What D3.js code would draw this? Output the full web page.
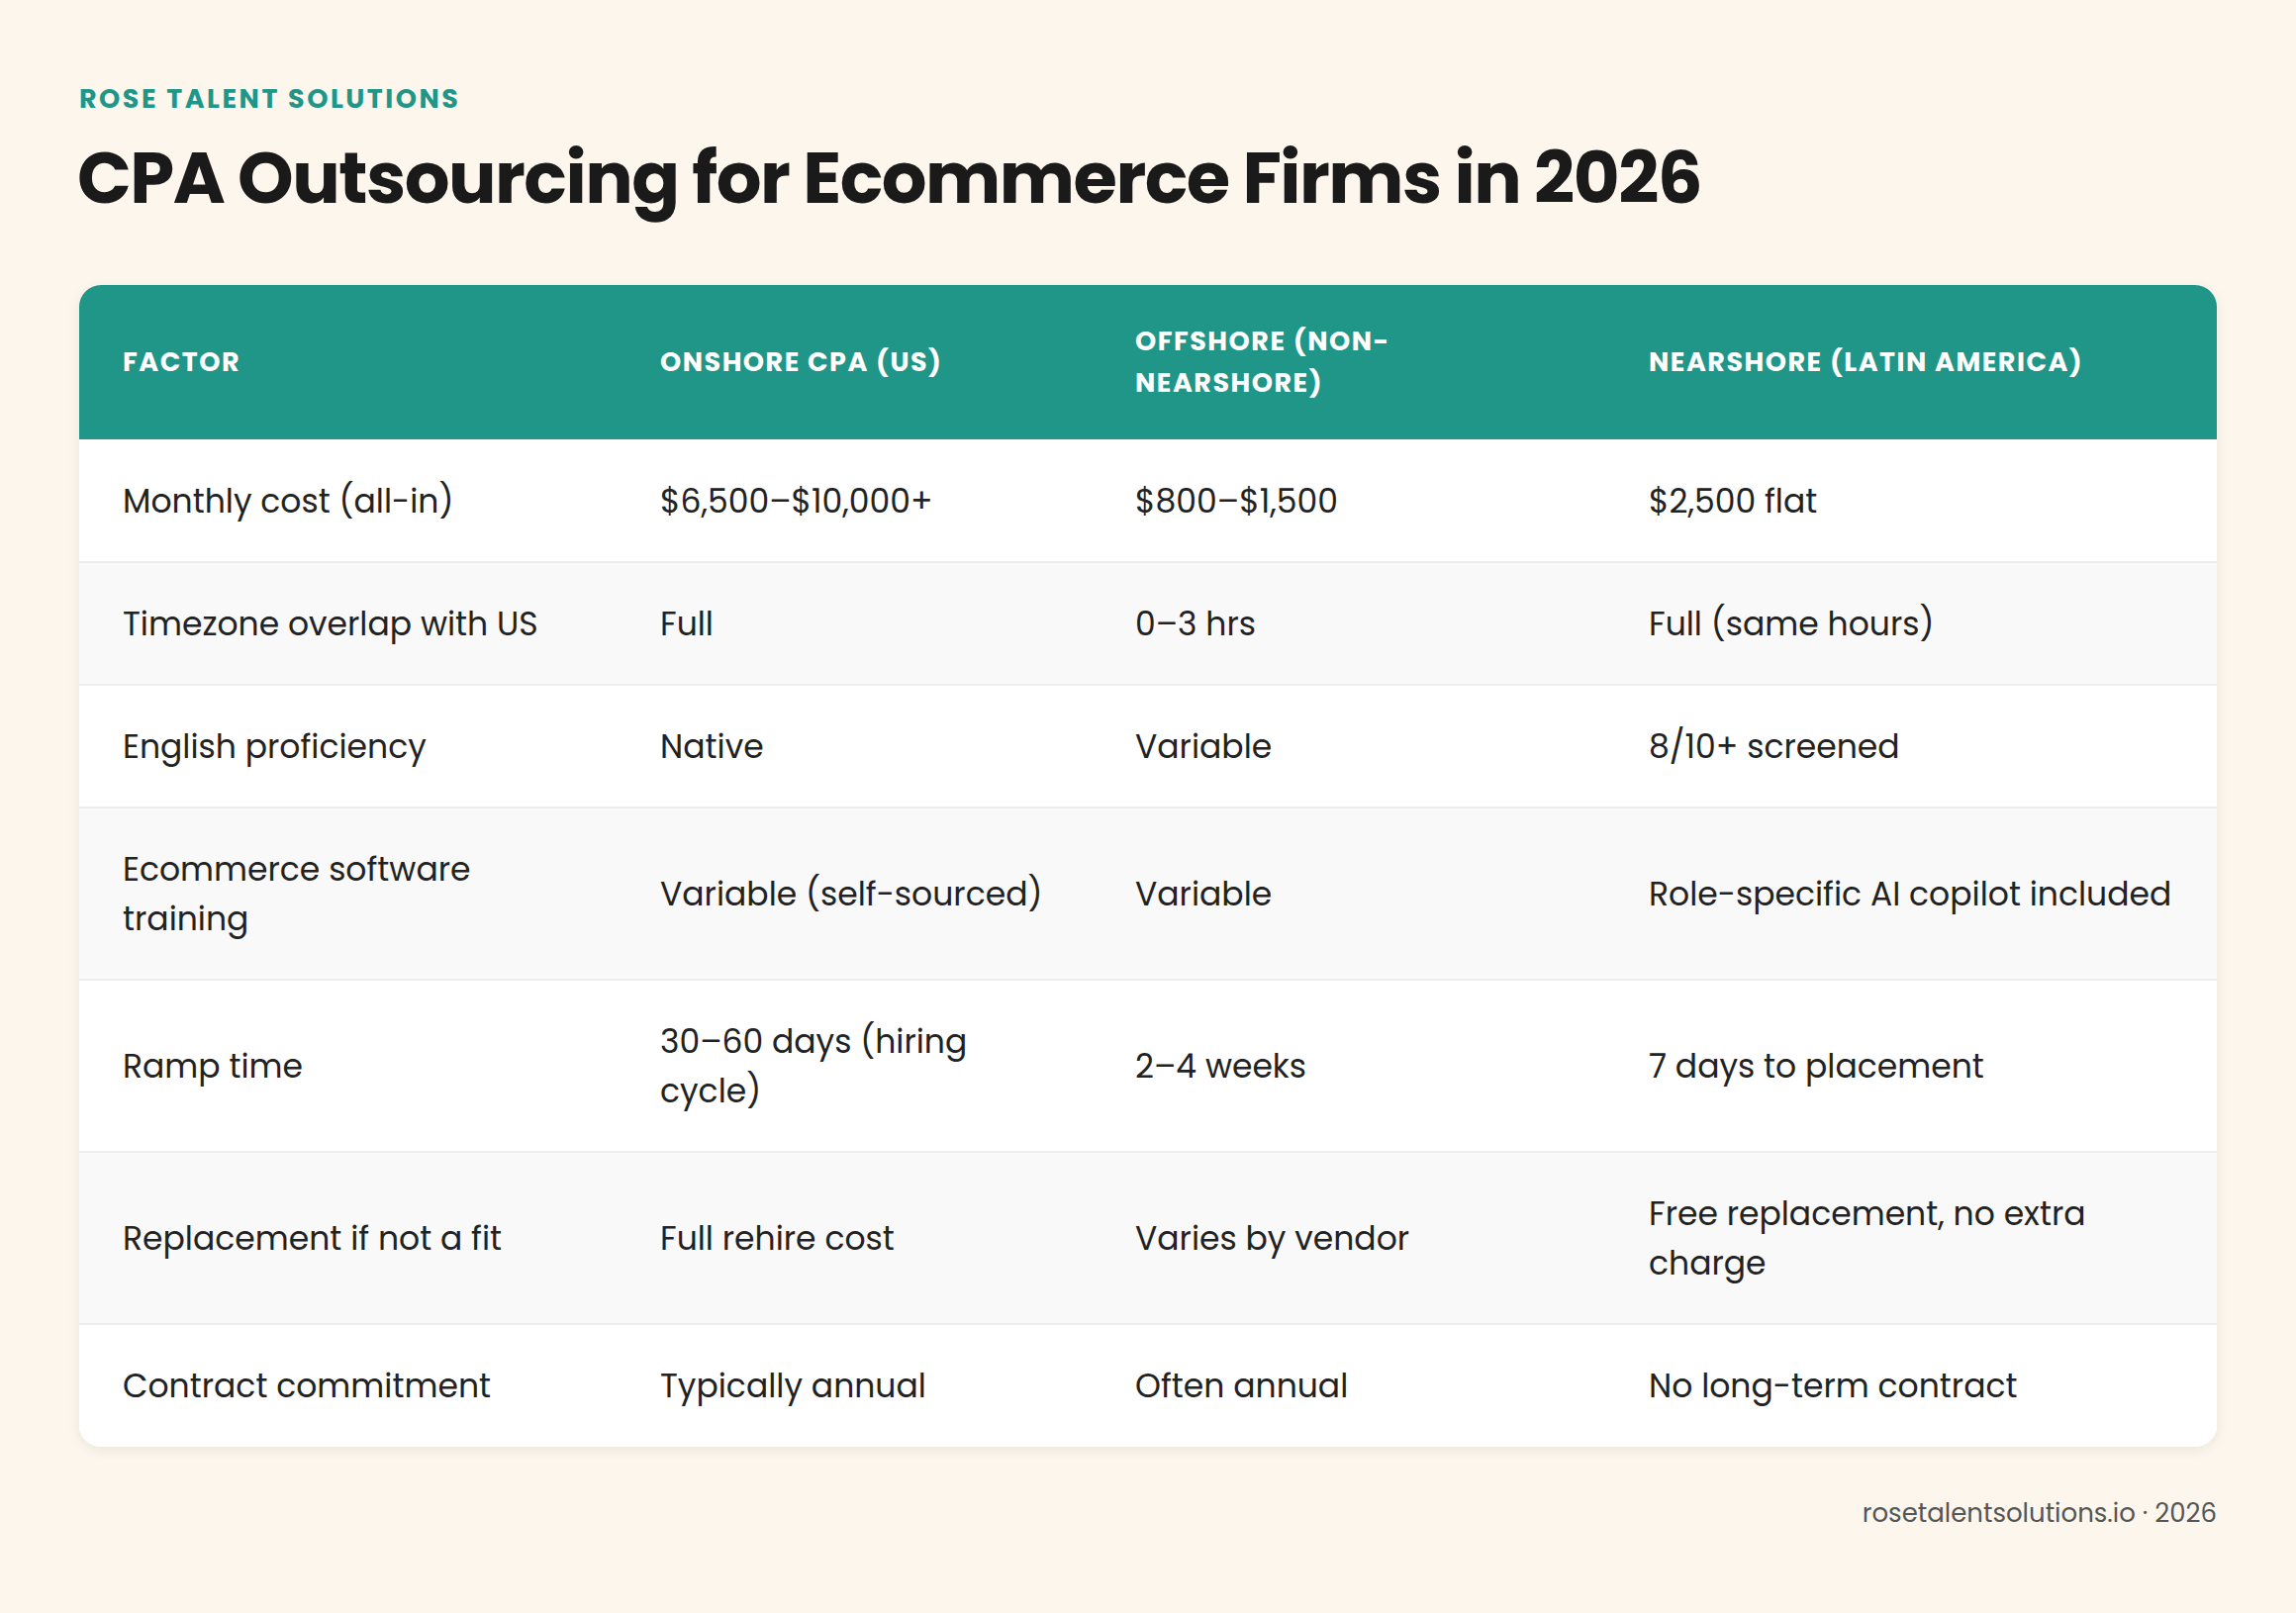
<!DOCTYPE html>
<html>
<head>
<meta charset="utf-8">
<script src="https://cdn.jsdelivr.net/npm/d3@7"></script>
<style>
  body { margin: 0; background: #fdf6ec; }
  svg { display: block; }
</style>
</head>
<body>
<svg id="chart"></svg>
<script>
// table content ("\n" marks where the reference wraps a cell)
const columns = ["FACTOR", "ONSHORE CPA (US)", "OFFSHORE (NON-\nNEARSHORE)", "NEARSHORE (LATIN AMERICA)"];
const factors = ["Monthly cost (all-in)", "Timezone overlap with US", "English proficiency",
  "Ecommerce software\ntraining", "Ramp time", "Replacement if not a fit", "Contract commitment"];
const onshore = ["$6,500–$10,000+", "Full", "Native", "Variable (self-sourced)",
  "30–60 days (hiring\ncycle)", "Full rehire cost", "Typically annual"];
const offshore = ["$800–$1,500", "0–3 hrs", "Variable", "Variable", "2–4 weeks",
  "Varies by vendor", "Often annual"];
const nearshore = ["$2,500 flat", "Full (same hours)", "8/10+ screened", "Role-specific AI copilot included",
  "7 days to placement", "Free replacement, no extra\ncharge", "No long-term contract"];

const W = 2320, H = 1630;
const font = "Poppins, Inter, 'Noto Sans', sans-serif";
const teal = "#1f9688";

const svg = d3.select("#chart").attr("width", W).attr("height", H);
svg.append("rect").attr("width", W).attr("height", H).attr("fill", "#fdf6ec");

svg.append("text").attr("x", 80).attr("y", 109)
  .attr("font-family", font).attr("font-size", 27).attr("font-weight", 700)
  .attr("letter-spacing", 2.5).attr("fill", teal).text("ROSE TALENT SOLUTIONS");

svg.append("text").attr("x", 78).attr("y", 205)
  .attr("font-family", font).attr("font-size", 72).attr("font-weight", 700)
  .attr("letter-spacing", -1.5).attr("fill", "#1a1a1a").text("CPA Outsourcing for Ecommerce Firms in 2026");

const tx = 80, tw = 2160, ty = 288, headH = 156;
const colX = d3.scaleOrdinal().domain(d3.range(4)).range([124, 667, 1147, 1666]);

const rows = factors.map((f, i) => [f, onshore[i], offshore[i], nearshore[i]]);
const lines = s => s.split("\n");
const rowH = rows.map(r => d3.max(r, c => lines(c).length) > 1 ? 174 : 124);
const rowY = [];
rowH.reduce((acc, h, i) => (rowY[i] = acc, acc + h), ty + headH);
const tableH = headH + d3.sum(rowH);

// card with shadow and rounded corners
const defs = svg.append("defs");
const f = defs.append("filter").attr("id", "sh").attr("x", "-5%").attr("y", "-5%").attr("width", "110%").attr("height", "115%");
f.append("feDropShadow").attr("dx", 0).attr("dy", 3).attr("stdDeviation", 6).attr("flood-color", "#000").attr("flood-opacity", 0.07);
defs.append("clipPath").attr("id", "card").append("rect")
  .attr("x", tx).attr("y", ty).attr("width", tw).attr("height", tableH).attr("rx", 22);

svg.append("rect").attr("x", tx).attr("y", ty).attr("width", tw).attr("height", tableH)
  .attr("rx", 22).attr("fill", "#fff").attr("filter", "url(#sh)");

const g = svg.append("g").attr("clip-path", "url(#card)");
g.append("rect").attr("x", tx).attr("y", ty).attr("width", tw).attr("height", headH).attr("fill", teal);

function cellText(sel, x, yMid, str, size, lh, attrs) {
  const ls = lines(str);
  const t = sel.append("text").attr("x", x).attr("font-family", font).attr("font-size", size);
  Object.entries(attrs).forEach(([k, v]) => t.attr(k, v));
  ls.forEach((l, j) => t.append("tspan").attr("x", x)
    .attr("y", yMid + (j - (ls.length - 1) / 2) * lh).attr("dy", "0.35em").text(l));
}

columns.forEach((c, j) => cellText(g, colX(j), ty + headH / 2, c, 27, 42,
  { "font-weight": 700, "letter-spacing": 1.5, fill: "#fff" }));

rows.forEach((r, i) => {
  g.append("rect").attr("x", tx).attr("y", rowY[i]).attr("width", tw).attr("height", rowH[i])
    .attr("fill", i % 2 ? "#f9f9f9" : "#fff");
  if (i > 0) g.append("line").attr("x1", tx).attr("x2", tx + tw)
    .attr("y1", rowY[i]).attr("y2", rowY[i]).attr("stroke", "#e8e8e8").attr("stroke-width", 1.5);
  r.forEach((c, j) => cellText(g, colX(j), rowY[i] + rowH[i] / 2, c, 33, 50, { fill: "#222" }));
});

svg.append("text").attr("x", tx + tw).attr("y", 1538).attr("text-anchor", "end")
  .attr("font-family", font).attr("font-size", 26).attr("fill", "#555")
  .text("rosetalentsolutions.io · 2026");
</script>
</body>
</html>
